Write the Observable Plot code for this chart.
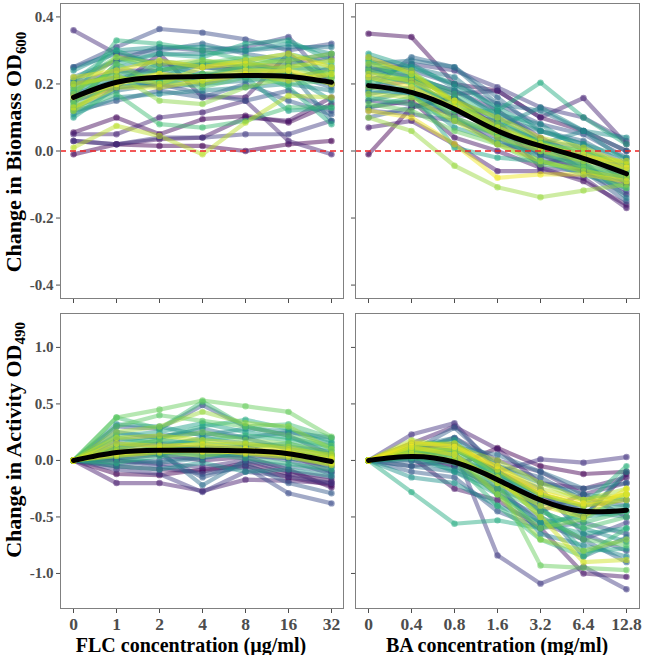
<!DOCTYPE html>
<html><head><meta charset="utf-8">
<script src="https://cdn.jsdelivr.net/npm/d3@7"></script>
<script src="https://cdn.jsdelivr.net/npm/@observablehq/plot@0.6"></script>
<style>
body{margin:0;background:#fff;}
#wrap{position:relative;width:646px;height:655px;overflow:hidden;font-family:"Liberation Serif","Times New Roman",serif;font-weight:bold;}
.pl{position:absolute;}
.ytitle{position:absolute;white-space:nowrap;font-size:22px;line-height:22px;color:#000;transform-origin:center center;}
.xtitle{position:absolute;white-space:nowrap;font-size:20px;line-height:16px;color:#000;transform:translateX(-50%);}
sub{font-size:0.68em;vertical-align:-0.3em;line-height:0;}
</style></head>
<body><div id="wrap"></div>
<script>
const flcConc = [0,1,2,4,8,16,32];
const baConc = [0,0.4,0.8,1.6,3.2,6.4,12.8];
const biomassTicks = [-0.4,-0.2,0,0.2,0.4];
const activityTicks = [-1,-0.5,0,0.5,1];

const biomassFLC = [
[-0.01,0.02,0.015,0.015,0.0,0.02,0.03],
[0.055,0.10,0.05,0.095,0.105,0.085,0.14],
[0.03,0.02,0.035,0.04,0.10,0.09,0.16],
[0.15,0.19,0.29,0.16,0.16,0.29,0.20],
[0.05,0.05,0.10,0.115,0.15,0.03,-0.01],
[0.36,0.29,0.26,0.25,0.24,0.23,0.20],
[0.20,0.24,0.24,0.26,0.25,0.26,0.28],
[0.03,0.02,0.04,0.04,0.05,0.05,0.09],
[0.21,0.27,0.31,0.30,0.31,0.34,0.20],
[0.25,0.31,0.364,0.353,0.333,0.30,0.32],
[0.17,0.19,0.20,0.17,0.15,0.18,0.12],
[0.12,0.15,0.18,0.16,0.20,0.15,0.11],
[0.20,0.22,0.19,0.20,0.23,0.21,0.25],
[0.25,0.29,0.30,0.32,0.29,0.27,0.29],
[0.17,0.21,0.26,0.23,0.22,0.23,0.19],
[0.13,0.18,0.20,0.22,0.26,0.24,0.09],
[0.22,0.27,0.29,0.29,0.30,0.31,0.31],
[0.19,0.23,0.24,0.20,0.21,0.22,0.22],
[0.11,0.16,0.17,0.18,0.19,0.20,0.18],
[0.15,0.25,0.27,0.25,0.24,0.25,0.24],
[0.24,0.30,0.31,0.31,0.30,0.32,0.29],
[0.18,0.22,0.22,0.26,0.27,0.23,0.15],
[0.10,0.19,0.21,0.23,0.22,0.12,0.13],
[0.14,0.26,0.29,0.28,0.32,0.33,0.27],
[0.21,0.30,0.25,0.22,0.25,0.19,0.08],
[0.16,0.33,0.32,0.30,0.27,0.29,0.26],
[0.13,0.21,0.24,0.27,0.25,0.28,0.22],
[0.12,0.17,0.08,0.07,0.09,0.13,0.13],
[0.18,0.24,0.21,0.19,0.22,0.20,0.21],
[0.20,0.28,0.24,0.26,0.28,0.26,0.25],
[0.15,0.20,0.22,0.21,0.24,0.25,0.23],
[0.14,0.26,0.20,0.23,0.25,0.23,0.20],
[0.19,0.23,0.15,0.14,0.19,0.22,0.24],
[0.17,0.28,0.26,0.27,0.26,0.27,0.29],
[0.12,0.21,0.23,0.20,0.23,0.24,0.22],
[0.01,0.075,0.045,-0.01,0.085,0.165,0.16],
[0.20,0.22,0.20,0.25,0.26,0.25,0.27],
[0.13,0.19,0.19,0.21,0.23,0.21,0.23],
[0.22,0.24,0.27,0.25,0.27,0.29,0.25],
[0.16,0.20,0.23,0.22,0.24,0.24,0.20]
];
const biomassBA = [
[-0.01,0.13,0.16,0.07,-0.01,-0.06,-0.10],
[0.35,0.34,0.20,0.18,0.10,0.06,0.0],
[0.13,0.15,0.04,0.0,-0.05,-0.09,-0.16],
[0.07,0.09,0.02,-0.06,-0.06,-0.08,-0.17],
[0.19,0.21,0.17,0.18,0.10,0.158,0.02],
[0.25,0.22,0.18,0.12,0.04,-0.02,-0.08],
[0.15,0.14,0.11,0.09,-0.05,-0.06,-0.13],
[0.24,0.26,0.24,0.19,0.13,0.10,0.03],
[0.12,0.11,0.09,0.04,-0.04,-0.01,-0.05],
[0.20,0.17,0.10,0.02,0.0,-0.04,-0.12],
[0.28,0.24,0.20,0.14,0.08,0.05,-0.02],
[0.10,0.13,0.16,0.08,0.03,-0.06,-0.15],
[0.22,0.21,0.13,0.05,-0.02,-0.05,-0.09],
[0.18,0.28,0.25,0.16,0.06,0.03,-0.04],
[0.17,0.19,0.15,0.10,0.06,0.02,-0.06],
[0.26,0.27,0.25,0.14,0.12,0.06,0.0],
[0.23,0.25,0.22,0.12,0.03,0.01,-0.10],
[0.15,0.18,0.10,0.05,0.01,-0.03,-0.14],
[0.21,0.26,0.19,0.10,0.02,0.06,-0.03],
[0.27,0.23,0.15,0.07,0.13,0.06,0.04],
[0.24,0.22,0.18,0.11,0.08,0.0,-0.05],
[0.18,0.17,0.07,0.03,-0.01,-0.04,-0.08],
[0.29,0.25,0.20,0.13,0.06,0.02,-0.02],
[0.22,0.18,0.01,-0.02,-0.03,-0.07,-0.11],
[0.13,0.16,0.12,0.12,0.204,0.10,0.02],
[0.20,0.22,0.16,0.06,0.01,-0.02,-0.06],
[0.25,0.23,0.17,0.09,0.03,-0.01,-0.07],
[0.16,0.14,0.09,0.05,-0.03,-0.06,-0.09],
[0.27,0.20,0.14,0.06,0.0,-0.05,-0.08],
[0.21,0.22,0.12,0.07,0.02,0.0,-0.04],
[0.14,0.12,0.06,0.02,-0.04,-0.05,-0.11],
[0.24,0.20,0.10,0.05,0.03,-0.04,-0.07],
[0.19,0.18,0.13,0.08,0.02,0.0,-0.06],
[0.10,0.06,-0.044,-0.108,-0.138,-0.118,-0.10],
[0.26,0.24,0.14,0.04,0.0,-0.03,-0.05],
[0.17,0.16,0.09,0.02,-0.03,-0.06,-0.08],
[0.23,0.21,0.15,0.10,0.04,0.01,-0.04],
[0.28,0.23,0.15,0.07,0.02,-0.02,-0.03],
[0.12,0.10,0.02,-0.08,-0.07,-0.07,-0.09],
[0.22,0.19,0.13,0.06,0.01,-0.01,-0.05]
];
const activityFLC = [
[0,-0.12,-0.13,-0.08,-0.05,-0.15,-0.22],
[0,-0.05,-0.08,-0.10,-0.02,-0.12,-0.18],
[0,0.02,0.05,0.0,0.03,-0.08,-0.24],
[0,-0.20,-0.20,-0.27,-0.17,-0.18,-0.20],
[0,0.08,0.10,0.12,0.09,0.05,-0.10],
[0,0.0,-0.03,-0.06,0.0,-0.10,-0.15],
[0,0.12,0.15,0.10,0.12,0.04,0.0],
[0,-0.08,-0.12,-0.28,-0.10,-0.14,-0.20],
[0,0.05,0.07,0.06,0.04,0.02,-0.05],
[0,0.0,-0.05,-0.12,-0.06,-0.29,-0.38],
[0,0.30,0.28,0.49,0.30,0.22,0.05],
[0,0.10,0.05,-0.15,-0.03,-0.20,-0.29],
[0,-0.03,0.0,0.03,0.06,0.0,-0.12],
[0,0.18,0.22,0.24,0.20,0.25,0.20],
[0,0.06,0.08,-0.22,0.0,-0.05,-0.10],
[0,0.25,0.20,0.28,0.20,0.10,0.04],
[0,0.02,-0.02,0.02,0.08,0.05,-0.06],
[0,0.15,0.12,0.20,0.15,0.12,0.08],
[0,0.05,0.12,0.09,0.10,0.02,-0.02],
[0,0.32,0.30,0.22,0.28,0.26,0.15],
[0,-0.05,-0.08,-0.02,-0.10,-0.08,-0.14],
[0,0.10,0.18,0.15,0.12,0.15,0.05],
[0,0.22,0.25,0.33,0.25,0.20,0.12],
[0,0.03,0.06,0.10,0.05,0.08,0.0],
[0,0.14,0.20,0.30,0.36,0.28,0.17],
[0,-0.02,0.04,0.06,0.02,-0.03,-0.08],
[0,0.20,0.15,0.18,0.22,0.18,0.10],
[0,0.38,0.28,0.52,0.30,0.32,0.20],
[0,0.07,0.10,0.12,0.08,0.06,0.02],
[0,0.30,0.40,0.35,0.30,0.22,0.13],
[0,0.38,0.45,0.53,0.48,0.43,0.21],
[0,0.12,0.18,0.25,0.18,0.15,0.06],
[0,0.05,0.08,0.04,0.10,0.04,-0.03],
[0,0.25,0.30,0.43,0.33,0.30,0.10],
[0,0.10,0.12,0.15,0.14,0.12,0.03],
[0,0.08,0.10,0.08,0.10,0.07,0.02],
[0,0.20,0.22,0.18,0.15,0.10,0.05],
[0,0.04,0.07,0.10,0.06,0.03,-0.04],
[0,0.15,0.13,0.14,0.10,0.08,-0.02],
[0,0.06,0.09,0.08,0.07,0.05,0.01]
];
const activityBA = [
[0,0.05,-0.05,0.11,-0.05,-0.12,-0.10],
[0,0.10,0.15,-0.10,-0.30,-0.50,-0.12],
[0,0.03,-0.25,-0.35,-0.60,-1.00,-1.03],
[0,0.15,0.30,0.10,-0.20,-0.25,-0.15],
[0,-0.05,0.0,-0.15,-0.45,-0.30,-0.20],
[0,0.08,0.20,0.0,-0.10,-0.30,-0.50],
[0,0.23,0.33,-0.10,0.01,-0.02,0.03],
[0,0.12,0.10,-0.84,-1.09,-0.94,-1.14],
[0,0.0,-0.05,-0.25,-0.55,-0.70,-0.55],
[0,0.10,0.05,-0.20,-0.38,-0.40,-0.35],
[0,0.05,0.10,-0.10,-0.25,-0.65,-0.80],
[0,-0.10,-0.15,-0.45,-0.60,-0.55,-0.65],
[0,0.08,0.29,-0.05,-0.15,-0.35,-0.40],
[0,0.02,0.0,-0.30,-0.50,-0.70,-0.90],
[0,0.15,0.12,0.05,-0.10,-0.25,-0.20],
[0,-0.05,-0.10,-0.25,-0.40,-0.85,-0.68],
[0,0.06,0.05,-0.15,-0.30,-0.45,-0.50],
[0,0.12,0.20,-0.05,-0.20,-0.30,-0.35],
[0,0.0,-0.08,-0.20,-0.65,-0.75,-0.85],
[0,0.04,0.10,-0.10,-0.45,-0.60,-0.72],
[0,-0.15,-0.20,-0.40,-0.55,-0.50,-0.10],
[0,0.10,0.0,-0.10,-0.35,-0.50,-0.45],
[0,0.05,-0.10,-0.30,-0.55,-0.65,-0.60],
[0,0.12,0.18,-0.20,-0.40,-0.80,-0.78],
[0,-0.28,-0.56,-0.53,-0.60,-0.45,-0.40],
[0,0.08,0.10,-0.12,-0.30,-0.40,-0.05],
[0,0.02,-0.02,-0.40,-0.70,-0.85,-0.60],
[0,0.10,0.05,-0.20,-0.35,-0.55,-0.45],
[0,0.06,0.02,-0.25,-0.45,-0.60,-0.50],
[0,0.15,0.15,-0.15,-0.50,-0.70,-0.75],
[0,0.10,0.08,-0.20,-0.93,-0.95,-0.97],
[0,0.05,0.0,-0.30,-0.60,-0.52,-0.30],
[0,0.12,0.10,-0.10,-0.30,-0.40,-0.30],
[0,0.08,0.05,-0.30,-0.70,-0.80,-0.70],
[0,0.18,0.12,0.0,-0.20,-0.35,-0.25],
[0,0.10,0.10,-0.05,-0.25,-0.35,-0.30],
[0,0.06,0.0,-0.15,-0.50,-0.90,-0.88],
[0,0.14,0.15,-0.08,-0.30,-0.40,-0.35],
[0,0.12,0.05,-0.20,-0.40,-0.50,-0.25],
[0,0.16,0.12,-0.05,-0.28,-0.38,-0.30]
];
const smoothBiomassFLC = [0.160,0.205,0.220,0.222,0.225,0.222,0.205];
const smoothBiomassBA = [0.195,0.175,0.125,0.060,0.015,-0.022,-0.068];
const smoothActivityFLC = [0.0,0.07,0.09,0.09,0.085,0.06,-0.01];
const smoothActivityBA = [0.0,0.035,-0.015,-0.17,-0.35,-0.45,-0.44];

const nStrains = biomassFLC.length;
const longForm = (conc, rows) => rows.flatMap((vals, s) => vals.map((v, i) => ({strain: s, x: conc[i], y: v})));
const smoothForm = (conc, vals) => vals.map((v, i) => ({x: conc[i], y: v}));
const fmt = d => d.toFixed(1);

function panel({conc, rows, smooth, yDomain, yTicks, showYLabels, showXLabels, zero, width, height, mL, mR, mT, mB}) {
  const marks = [
    Plot.axisY(yTicks, {tickSize: 4, tickPadding: 3, tickFormat: showYLabels ? fmt : () => "", fontSize: 15, color: "#4d4d4d", label: null}),
    Plot.axisX(conc, {tickSize: 5, tickPadding: 4, tickFormat: showXLabels ? (d => String(d)) : () => "", fontSize: 17.5, color: "#4d4d4d", label: null}),
    Plot.line(longForm(conc, rows), {x: "x", y: "y", z: "strain", stroke: "strain", strokeWidth: 4.2, strokeOpacity: 0.48, curve: "linear"}),
    Plot.dot(longForm(conc, rows), {x: "x", y: "y", fill: "strain", r: 3.2, fillOpacity: 0.55, stroke: null})
  ];
  if (zero) marks.push(Plot.ruleY([0], {stroke: "#ee2222", strokeWidth: 1.4, strokeDasharray: "6,4"}));
  marks.push(Plot.line(smoothForm(conc, smooth), {x: "x", y: "y", stroke: "black", strokeWidth: 5, curve: "natural"}));
  marks.push(Plot.frame({stroke: "#808080", strokeWidth: 1}));
  const svg = Plot.plot({
    width, height, marginLeft: mL, marginRight: mR, marginTop: mT, marginBottom: mB,
    x: {type: "point", domain: conc, padding: 0.27},
    y: {domain: yDomain},
    color: {type: "linear", scheme: "viridis", domain: [0, nStrains - 1]},
    style: {background: "transparent", overflow: "visible", fontFamily: "'Liberation Serif', 'Times New Roman', serif", fontWeight: "bold"},
    marks
  });
  d3.select(svg).selectAll('g[aria-label="x-axis tick label"]').style("font-size", "17.5px").attr("fill", "#4d4d4d");
  d3.select(svg).selectAll('g[aria-label="y-axis tick label"]').style("font-size", "15px").attr("fill", "#4d4d4d");
  return svg;
}

const wrap = document.getElementById("wrap");
function place(el, left, top) { el.classList.add("pl"); el.style.left = left + "px"; el.style.top = top + "px"; wrap.appendChild(el); }

place(panel({conc: flcConc, rows: biomassFLC, smooth: smoothBiomassFLC, yDomain: [-0.44, 0.44], yTicks: biomassTicks, showYLabels: true, showXLabels: false, zero: true, width: 350, height: 310, mL: 60, mR: 7, mT: 3, mB: 12}), 0, 0);
place(panel({conc: baConc, rows: biomassBA, smooth: smoothBiomassBA, yDomain: [-0.44, 0.44], yTicks: biomassTicks, showYLabels: false, showXLabels: false, zero: true, width: 296, height: 310, mL: 10, mR: 2, mT: 3, mB: 12}), 345, 0);
place(panel({conc: flcConc, rows: activityFLC, smooth: smoothActivityFLC, yDomain: [-1.31, 1.30], yTicks: activityTicks, showYLabels: true, showXLabels: true, zero: false, width: 350, height: 355, mL: 60, mR: 7, mT: 13, mB: 47}), 0, 300);
place(panel({conc: baConc, rows: activityBA, smooth: smoothActivityBA, yDomain: [-1.31, 1.30], yTicks: activityTicks, showYLabels: false, showXLabels: true, zero: false, width: 296, height: 355, mL: 10, mR: 2, mT: 13, mB: 47}), 345, 300);

function ytitle(html, cx, cy) {
  const d = document.createElement("div");
  d.className = "ytitle"; d.innerHTML = html; wrap.appendChild(d);
  const w = d.offsetWidth, h = d.offsetHeight;
  d.style.left = (cx - w / 2) + "px"; d.style.top = (cy - h / 2) + "px";
  d.style.transform = "rotate(-90deg)";
}
function xtitle(text, cx, top) {
  const d = document.createElement("div");
  d.className = "xtitle"; d.textContent = text; d.style.left = cx + "px"; d.style.top = top + "px"; wrap.appendChild(d);
}
ytitle("Change in Biomass OD<sub>600</sub>", 14, 152);
ytitle("Change in Activity OD<sub>490</sub>", 14, 440);
xtitle("FLC concentration (µg/ml)", 191, 637);
xtitle("BA concentration (mg/ml)", 497, 637);
</script></body></html>
